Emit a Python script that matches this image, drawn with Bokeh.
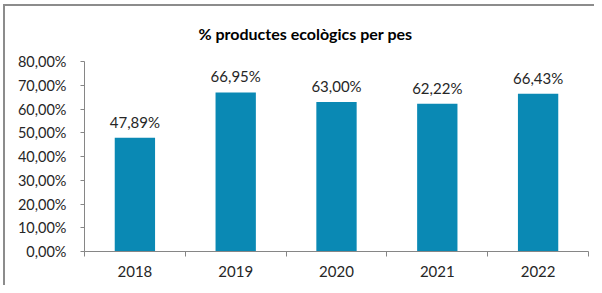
from bokeh.plotting import figure
from bokeh.models import (ColumnDataSource, Range1d, FixedTicker, LabelSet,
                          CustomJSTickFormatter, Title)
from bokeh.core.properties import value
from bokeh.embed import file_html
from bokeh.resources import INLINE

years = ["2018", "2019", "2020", "2021", "2022"]
values = [47.89, 66.95, 63.00, 62.22, 66.43]
y_ticks = [0, 10, 20, 30, 40, 50, 60, 70, 80]
title_text = "% productes ecològics per pes"

FONT = "Lato"
TEXT_COLOR = "#262626"
BAR_COLOR = "#0A89B4"
AXIS_COLOR = "#868686"
FRAME_COLOR = "#8c8c8c"

xs = [i + 0.5 for i in range(len(years))]
labels = [f"{v:.2f}".replace(".", ",") + "%" for v in values]
src = ColumnDataSource(data=dict(x=xs, val=values, label=labels))

p = figure(width=594, height=285, output_backend="svg", toolbar_location=None,
           x_range=Range1d(0, len(years)), y_range=Range1d(0, 80),
           min_border_left=84, min_border_right=6, min_border_top=61,
           min_border_bottom=34, border_fill_color=None,
           background_fill_color="white",
           styles={"box-shadow": f"inset 3px 4px 0 0 white, inset 5px 6px 0 0 {FRAME_COLOR}",
                   "background-color": "white"})
p.title = None
p.add_layout(Title(text=title_text, align="left", text_font=FONT,
                   text_font_size="16px", text_font_style="bold",
                   text_color="#000000", offset=114, standoff=38), "above")

p.vbar(x="x", top="val", width=0.4, source=src, color=BAR_COLOR, line_color=None)

p.add_layout(LabelSet(x="x", y="val", text="label", source=src,
                      text_align="center", text_baseline="middle", y_offset=16,
                      text_font=value(FONT), text_font_size="15px",
                      text_color=TEXT_COLOR))

p.xgrid.visible = False
p.ygrid.visible = False
p.outline_line_color = None

xa = p.xaxis[0]
xa.ticker = FixedTicker(ticks=xs, minor_ticks=list(range(len(years) + 1)))
xa.major_label_overrides = {x: y for x, y in zip(xs, years)}
xa.major_tick_line_color = None
xa.major_tick_out = 0
xa.major_tick_in = 0
xa.minor_tick_out = 5
xa.minor_tick_in = 0
xa.minor_tick_line_color = AXIS_COLOR
xa.axis_line_color = AXIS_COLOR
xa.major_label_standoff = 9
xa.major_label_text_font = FONT
xa.major_label_text_font_size = "15px"
xa.major_label_text_color = TEXT_COLOR

ya = p.yaxis[0]
ya.ticker = FixedTicker(ticks=y_ticks)
ya.formatter = CustomJSTickFormatter(code="return tick.toFixed(2).replace('.', ',') + '%';")
ya.major_tick_out = 4
ya.major_tick_in = 0
ya.minor_tick_line_color = None
ya.major_tick_line_color = AXIS_COLOR
ya.axis_line_color = AXIS_COLOR
ya.major_label_standoff = 14
ya.major_label_text_font = FONT
ya.major_label_text_font_size = "14.5px"
ya.major_label_text_color = TEXT_COLOR

open("out.html", "w").write(file_html(p, INLINE))
